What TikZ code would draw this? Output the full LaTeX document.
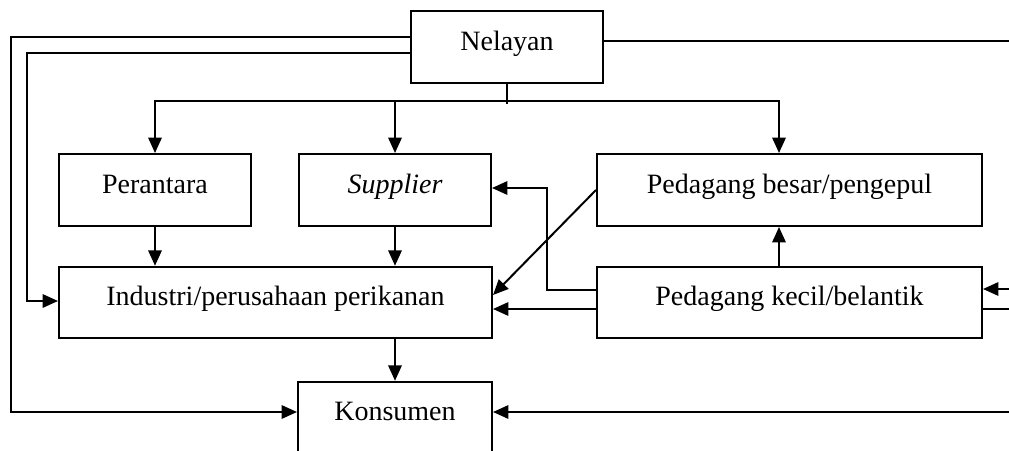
\documentclass[tikz,border=0pt]{standalone}
\usepackage{fontspec}
\setmainfont{Liberation Serif}
\usetikzlibrary{arrows.meta}

\tikzset{
  box/.style={draw, line width=1.5pt, inner sep=0pt, minimum height=53.6pt,
    text height=15pt, text depth=10.5pt, font=\fontsize{21}{25}\selectfont},
  arr/.style={-{Triangle[length=11.5pt,width=10pt]}},
}

\begin{document}
\begin{tikzpicture}[x=0.75pt, y=-0.75pt, line width=1.5pt]
    \clip (0,0) rectangle (1009,450);

    \node[box, minimum width=144pt, minimum height=54pt] (nelayan) at (507,47) {Nelayan};
    \node[box, minimum width=144pt, minimum height=54pt] (perantara) at (155,190) {Perantara};
    \node[box, minimum width=144pt, minimum height=54pt] (supplier) at (395,190) {\itshape Supplier};
    \node[box, minimum width=288.75pt, minimum height=54pt] (besar) at (789.5,190) {Pedagang besar/pengepul};
    \node[box, minimum width=324.75pt] (industri) at (275.5,302.5) {Industri/perusahaan perikanan};
    \node[box, minimum width=288.75pt] (kecil) at (789.5,302.5) {Pedagang kecil/belantik};
    \node[box, minimum width=145.5pt] (konsumen) at (395,417.5) {Konsumen};

    \coordinate (bus) at (507,101);
    \coordinate (outA) at (1015,41);
    \coordinate (outB) at (1015,289);
    \coordinate (outC) at (1015,309);
    \coordinate (outD) at (1015,412);

    \draw[arr] (nelayan.west |- 0,37) -| (11,412) -- (konsumen.west |- 0,412);
    \draw[arr] (nelayan.west |- 0,53) -| (27,301) -- (industri.west |- 0,301);
    \draw (nelayan.south) -- (507,104);
    \draw[arr] (bus) -| (perantara.north);
    \draw[arr] (bus) -| (supplier.north);
    \draw[arr] (bus) -| (besar.north -| 779,0);

    \draw[arr] (perantara.south) -- (perantara.south |- industri.north);
    \draw[arr] (supplier.south) -- (supplier.south |- industri.north);
    \draw[arr] (konsumen.north |- industri.south) -- (konsumen.north);
    \draw[arr] (kecil.north -| 779,0) -- (besar.south -| 779,0);

    \draw[arr] (besar.west) -- (industri.east |- 0,295);
    \draw[arr] (kecil.west |- 0,290) -| (547,188) -- (supplier.east |- 0,188);
    \draw[arr] (kecil.west |- 0,309) -- (industri.east |- 0,309);

    \draw (nelayan.east |- outA) -- (outA);
    \draw[arr] (outB) -- (kecil.east |- outB);
    \draw (kecil.east |- outC) -- (outC);
    \draw[arr] (outD) -- (konsumen.east |- outD);
\end{tikzpicture}
\end{document}
